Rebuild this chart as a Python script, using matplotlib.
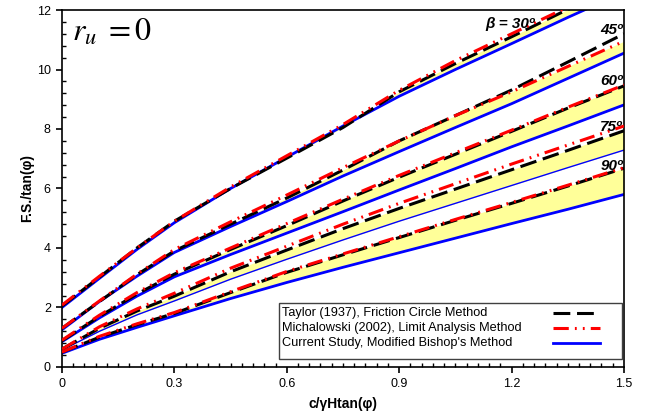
import numpy as np
import matplotlib.pyplot as plt
from matplotlib.lines import Line2D
from matplotlib.patches import Rectangle
from matplotlib.ticker import MultipleLocator, FormatStrFormatter

# c/(gamma H tan(phi)) sample points
ratio = [0, 0.1, 0.2, 0.3, 0.45, 0.6, 0.75, 0.9, 1.05, 1.2, 1.35, 1.5]
slopes = [30, 45, 60, 75, 90]

# Taylor (1937), friction circle
taylor_30 = [2.05, 3.02, 4.0, 4.9, 6.0, 7.02, 8.05, 9.25, 10.2, 11.1, 12.02, 12.9]
taylor_45 = [1.3, 2.2, 3.1, 3.9, 4.8, 5.68, 6.62, 7.6, 8.45, 9.31, 10.25, 11.2]
taylor_60 = [0.88, 1.7, 2.45, 3.12, 3.95, 4.75, 5.58, 6.38, 7.15, 7.92, 8.7, 9.45]
taylor_75 = [0.6, 1.3, 1.88, 2.38, 3.2, 3.93, 4.65, 5.33, 5.98, 6.63, 7.28, 7.94]
taylor_90 = [0.5, 1.0, 1.42, 1.8, 2.5, 3.18, 3.77, 4.35, 4.93, 5.5, 6.08, 6.68]

# Michalowski (2002), limit analysis
micha_30 = [2.08, 3.05, 4.0, 4.9, 6.05, 7.1, 8.15, 9.3, 10.3, 11.2, 12.1, 13.0]
micha_45 = [1.3, 2.22, 3.12, 3.95, 4.88, 5.78, 6.7, 7.6, 8.45, 9.25, 10.1, 10.95]
micha_60 = [0.9, 1.74, 2.5, 3.17, 4.0, 4.82, 5.64, 6.44, 7.2, 7.96, 8.73, 9.48]
micha_75 = [0.6, 1.35, 1.95, 2.48, 3.32, 4.06, 4.8, 5.5, 6.16, 6.82, 7.46, 8.1]
micha_90 = [0.5, 1.03, 1.45, 1.83, 2.53, 3.21, 3.8, 4.38, 4.96, 5.53, 6.11, 6.7]

# current study, modified Bishop
bishop_30 = [2.0, 2.98, 3.95, 4.85, 6.0, 7.05, 8.1, 9.1, 10.0, 10.87, 11.75, 12.6]
bishop_45 = [1.25, 2.2, 3.05, 3.85, 4.72, 5.56, 6.42, 7.24, 8.05, 8.85, 9.7, 10.55]
bishop_60 = [0.85, 1.65, 2.38, 3.03, 3.78, 4.5, 5.22, 5.95, 6.67, 7.4, 8.1, 8.81]
bishop_75 = [0.57, 1.2, 1.75, 2.22, 2.95, 3.62, 4.27, 4.9, 5.5, 6.1, 6.7, 7.29]
bishop_90 = [0.46, 0.93, 1.33, 1.72, 2.3, 2.84, 3.35, 3.84, 4.33, 4.82, 5.3, 5.8]

taylor = [taylor_30, taylor_45, taylor_60, taylor_75, taylor_90]
micha = [micha_30, micha_45, micha_60, micha_75, micha_90]
bishop = [bishop_30, bishop_45, bishop_60, bishop_75, bishop_90]

# slope angle labels: (x, y, text)
label_pos = [(1.13, 11.3, 'β = 30º'), (1.497, 11.1, '45º'), (1.497, 9.38, '60º'),
             (1.497, 7.82, '75º'), (1.497, 6.52, '90º')]

legend_labels = ['Taylor (1937), Friction Circle Method',
                 'Michalowski (2002), Limit Analysis Method',
                 "Current Study, Modified Bishop's Method"]

plt.rcParams['font.family'] = ['Liberation Sans', 'DejaVu Sans']
plt.rcParams['mathtext.fontset'] = 'stix'

fig = plt.figure(figsize=(6.45, 4.17), dpi=100)
ax = fig.add_axes([0.0961, 0.12, 0.8713, 0.856])

taylor_style = dict(color='black', lw=2.2, dashes=(5.5, 2.2))
micha_style = dict(color='#ff0000', lw=2.2, dashes=(5, 2, 0.6, 2, 0.6, 2))
bishop_style = dict(color='#0000ff', lw=2.0)

x = np.array(ratio)
for i, beta in enumerate(slopes):
    t = np.array(taylor[i])
    m = np.array(micha[i])
    b = np.array(bishop[i])
    ax.fill_between(x, np.minimum(t, m), b, color='#ffff99', lw=0, zorder=1)
    bstyle = dict(bishop_style, lw=1.0) if beta == 75 else bishop_style
    ax.plot(x, b, zorder=2, **bstyle)
    ax.plot(x, t, zorder=3, **taylor_style)
    ax.plot(x, m, zorder=4, **micha_style)

for lx, ly, txt in label_pos:
    ax.text(lx, ly, txt, fontsize=11, fontweight='bold', style='italic',
            ha='right' if lx > 1.4 else 'left', va='bottom', zorder=5)

ax.text(0.028, 11.75, r'$r_u\;=0$', fontsize=23, va='top', ha='left')

ax.set_xlim(0, 1.5)
ax.set_ylim(0, 12)
ax.xaxis.set_major_locator(MultipleLocator(0.3))
ax.xaxis.set_minor_locator(MultipleLocator(0.03))
ax.yaxis.set_major_locator(MultipleLocator(2))
ax.yaxis.set_minor_locator(MultipleLocator(0.4))
ax.xaxis.set_major_formatter(FormatStrFormatter('%g'))
ax.tick_params(which='major', direction='out', length=4, width=1.2, labelsize=9, pad=4)
ax.tick_params(which='minor', direction='in', length=3, width=1.0)
for s in ax.spines.values():
    s.set_linewidth(1.2)

ax.set_xlabel('c/γHtan(φ)', fontsize=10, fontweight='bold', labelpad=5)
ax.set_ylabel('F.S./tan(φ)', fontsize=10, fontweight='bold', labelpad=2)

# legend box: labels on the left, line samples on the right
tr = ax.transAxes
ax.add_patch(Rectangle((0.386, 0.022), 0.61, 0.157, transform=tr, facecolor='white',
                       edgecolor='#404040', lw=1.0, zorder=6))
row_y = [0.151, 0.109, 0.067]
for yy, txt, st in zip(row_y, legend_labels, [taylor_style, micha_style, bishop_style]):
    ax.text(0.392, yy, txt, transform=tr, fontsize=9.2, va='center', ha='left', zorder=7)
    ax.add_line(Line2D([0.874, 0.957], [yy, yy], transform=tr, zorder=7, **st))

fig.savefig('out.png', dpi=100)
